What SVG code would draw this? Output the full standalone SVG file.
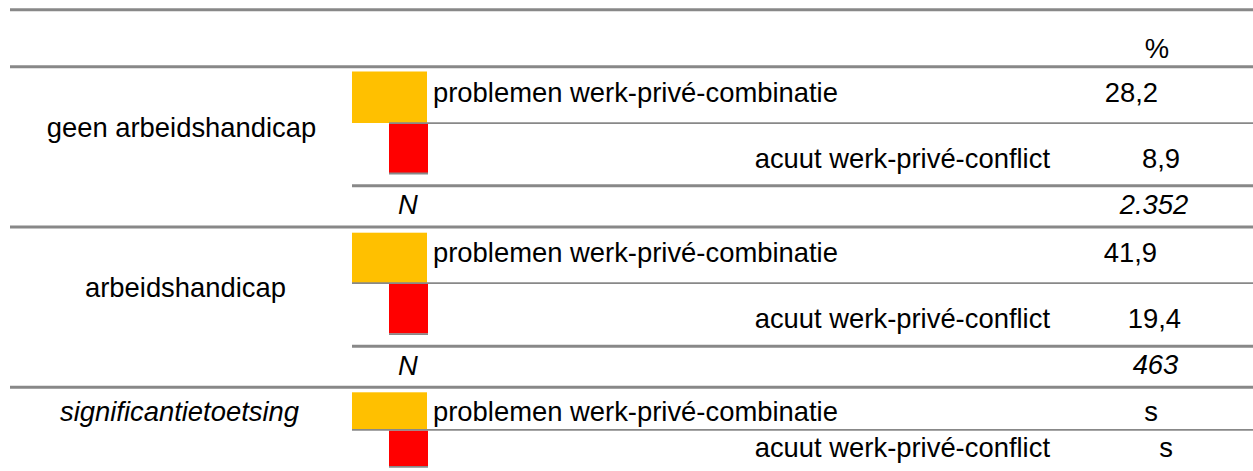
<svg xmlns="http://www.w3.org/2000/svg" width="1253" height="471" viewBox="0 0 1253 471">
<style>
text{font-family:"Liberation Sans",Arial,sans-serif;font-size:27.4px;fill:#000}
.i{font-style:italic}
.m{text-anchor:middle}
.e{text-anchor:end}
.thick{stroke:#888;stroke-width:3;fill:none}
.thin{stroke:#888;stroke-width:1.8;fill:none}
.or{fill:#FFC000}
.rd{fill:#FF0000}
</style>
<rect width="1253" height="471" fill="#fff"/>
<g id="boxes">
<rect class="or" x="352" y="71.5" width="75" height="51.5"/>
<rect class="rd" x="389" y="123" width="39" height="50"/>
<rect class="or" x="352" y="232.7" width="75" height="51"/>
<rect class="rd" x="389" y="283" width="39" height="50.5"/>
<rect class="or" x="352" y="392.3" width="75" height="37"/>
<rect class="rd" x="389" y="430.5" width="39" height="35.8"/>
</g>
<g id="connectors">
<line class="thick" x1="10" y1="9.7" x2="1253" y2="9.7"/>
<line class="thick" x1="10" y1="66.7" x2="1253" y2="66.7"/>
<line class="thin" x1="389" y1="123.2" x2="1253" y2="123.2"/>
<line class="thin" x1="389" y1="173.5" x2="428" y2="173.5"/>
<line class="thick" x1="352" y1="185.7" x2="1253" y2="185.7"/>
<line class="thick" x1="10" y1="227" x2="1253" y2="227"/>
<line class="thin" x1="352" y1="283.2" x2="1253" y2="283.2"/>
<line class="thin" x1="389" y1="334.2" x2="428" y2="334.2"/>
<line class="thick" x1="352" y1="346.2" x2="1253" y2="346.2"/>
<line class="thick" x1="10" y1="387.3" x2="1253" y2="387.3"/>
<line class="thin" x1="352" y1="429.8" x2="1253" y2="429.8"/>
<line class="thin" x1="389" y1="466.8" x2="428" y2="466.8"/>
</g>
<g id="header">
<text class="m" x="1157" y="58">%</text>
</g>
<g id="group-geen">
<text class="m" x="181.5" y="137">geen arbeidshandicap</text>
<text x="433" y="101.5">problemen werk-privé-combinatie</text>
<text class="e" x="1158" y="101.5">28,2</text>
<text class="e" x="1050" y="167.5">acuut werk-privé-conflict</text>
<text class="e" x="1180" y="167.5">8,9</text>
<text class="i m" x="408" y="214">N</text>
<text class="i m" x="1154" y="213.5">2.352</text>
</g>
<g id="group-arbeidshandicap">
<text class="m" x="185.5" y="297">arbeidshandicap</text>
<text x="433" y="261.5">problemen werk-privé-combinatie</text>
<text class="e" x="1157" y="261.5">41,9</text>
<text class="e" x="1050" y="327.5">acuut werk-privé-conflict</text>
<text class="e" x="1181" y="327.5">19,4</text>
<text class="i m" x="408" y="375">N</text>
<text class="i m" x="1155.5" y="374">463</text>
</g>
<g id="group-significantie">
<text class="i m" x="179.5" y="421">significantietoetsing</text>
<text x="433" y="421">problemen werk-privé-combinatie</text>
<text class="e" x="1158" y="420.5">s</text>
<text class="e" x="1050" y="456.5">acuut werk-privé-conflict</text>
<text class="e" x="1173" y="456.5">s</text>
</g>
</svg>
